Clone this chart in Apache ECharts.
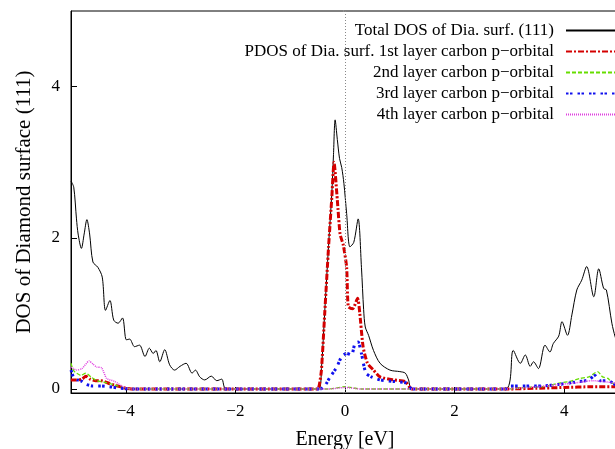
<!DOCTYPE html>
<html>
<head>
<meta charset="utf-8">
<script src="https://cdn.jsdelivr.net/npm/echarts/dist/echarts.min.js"></script>
<style>
html,body{margin:0;padding:0;background:#fff;}
#chart{width:615px;height:449px;}
</style>
</head>
<body>
<div id="chart"></div>
<script>
// ---- data ----
var seriesNames = [
  'Total DOS of Dia. surf. (111)',
  'PDOS of Dia. surf. 1st layer carbon p\u2212orbital',
  '2nd layer carbon p\u2212orbital',
  '3rd layer carbon p\u2212orbital',
  '4th layer carbon p\u2212orbital'
];
var xTicks = [-4, -2, 0, 2, 4];
var yTicks = [0, 2, 4];

var totalDOS = [
  [-5.0,2.75],[-4.95,2.67],[-4.90,2.25],[-4.87,2.05],[-4.81,1.86],[-4.76,2.05],[-4.71,2.24],[-4.66,2.05],
  [-4.60,1.68],[-4.51,1.61],[-4.43,1.48],[-4.37,1.04],[-4.29,1.17],[-4.22,0.91],[-4.14,0.87],[-4.06,0.94],
  [-3.99,0.65],[-3.93,0.66],[-3.84,0.56],[-3.75,0.58],[-3.65,0.43],[-3.57,0.54],[-3.50,0.47],[-3.45,0.51],
  [-3.38,0.36],[-3.29,0.52],[-3.20,0.32],[-3.11,0.25],[-3.01,0.30],[-2.90,0.34],[-2.79,0.21],[-2.73,0.25],
  [-2.65,0.16],[-2.56,0.12],[-2.44,0.17],[-2.34,0.11],[-2.25,0.13],[-2.17,0.0],[-0.48,0.0],
  [-0.43,0.27],[-0.37,1.02],[-0.30,1.90],[-0.24,2.60],[-0.21,3.10],[-0.18,3.56],[-0.14,3.30],[-0.10,3.05],
  [-0.06,2.93],[-0.02,2.72],[0.03,2.32],[0.09,1.88],[0.16,1.94],[0.24,2.25],[0.30,1.61],[0.34,1.05],
  [0.37,0.82],[0.43,0.71],[0.52,0.51],[0.64,0.34],[0.82,0.25],[1.00,0.23],[1.10,0.21],[1.16,0.12],[1.22,0.0],
  [2.93,0.0],[3.07,0.51],[3.20,0.34],[3.29,0.45],[3.38,0.30],[3.44,0.36],[3.53,0.27],[3.65,0.58],[3.74,0.49],
  [3.80,0.60],[3.90,0.70],[3.96,0.89],[4.06,0.71],[4.14,0.98],[4.23,1.31],[4.32,1.44],[4.41,1.62],[4.54,1.22],
  [4.63,1.59],[4.72,1.33],[4.77,1.31],[4.87,0.87],[4.93,0.69],[5.0,0.55]
];
var layer1 = [
  [-5.0,0.12],[-4.90,0.12],[-4.80,0.13],[-4.73,0.17],[-4.65,0.13],[-4.55,0.11],[-4.45,0.11],[-4.29,0.07],
  [-4.15,0.04],[-4.0,0.01],[-3.9,0.0],[-0.50,0.0],[-0.47,0.05],[-0.43,0.25],[-0.37,1.0],[-0.30,1.88],
  [-0.24,2.54],[-0.20,3.0],[-0.14,2.5],[-0.09,2.05],[-0.03,1.9],[0.03,1.61],[0.06,1.09],[0.14,1.06],
  [0.23,1.20],[0.27,1.0],[0.33,0.56],[0.41,0.34],[0.52,0.25],[0.64,0.16],[0.88,0.12],[1.10,0.10],[1.22,0.0],
  [2.95,0.0],[3.5,0.01],[4.0,0.02],[4.5,0.03],[5.0,0.03]
];
var layer2 = [
  [-5.0,0.34],[-4.95,0.24],[-4.82,0.18],[-4.73,0.21],[-4.62,0.15],[-4.53,0.11],[-4.40,0.09],[-4.29,0.07],
  [-4.15,0.04],[-4.05,0.02],[-3.9,0.0],[-0.3,0.0],[0.0,0.03],[0.3,0.0],[2.95,0.0],[3.3,0.02],[3.6,0.03],
  [3.93,0.08],[4.1,0.10],[4.29,0.14],[4.45,0.16],[4.61,0.23],[4.70,0.16],[4.80,0.14],[4.87,0.08],[5.0,0.05]
];
var layer3 = [
  [-5.0,0.25],[-4.95,0.15],[-4.88,0.12],[-4.80,0.10],[-4.72,0.06],[-4.60,0.04],[-4.45,0.04],[-4.3,0.03],
  [-4.1,0.01],[-3.9,0.0],[-0.45,0.0],[-0.37,0.04],[-0.27,0.16],[-0.15,0.29],[-0.06,0.43],[0.03,0.47],
  [0.12,0.45],[0.18,0.60],[0.24,0.62],[0.30,0.47],[0.38,0.21],[0.48,0.16],[0.64,0.12],[0.88,0.10],[1.12,0.08],
  [1.22,0.0],[2.93,0.0],[3.0,0.04],[3.3,0.04],[3.6,0.04],[3.9,0.06],[4.2,0.09],[4.45,0.12],[4.56,0.18],
  [4.65,0.11],[4.8,0.11],[4.95,0.05],[5.0,0.04]
];
var layer4 = [
  [-5.0,0.29],[-4.90,0.25],[-4.80,0.27],[-4.67,0.37],[-4.60,0.33],[-4.53,0.29],[-4.44,0.28],[-4.35,0.14],
  [-4.2,0.10],[-4.05,0.03],[-3.9,0.0],[-0.3,0.0],[0.0,0.02],[0.3,0.0],[2.95,0.0],[3.5,0.03],[3.9,0.06],
  [4.2,0.08],[4.5,0.11],[4.7,0.10],[4.9,0.08],[5.0,0.06]
];

var FONT = '"Liberation Serif","DejaVu Serif",serif';
function fmt(v){ return v < 0 ? '\u2212' + Math.abs(v) : String(v); }

var chart = echarts.init(document.getElementById('chart'), null, {renderer:'canvas'});
chart.setOption({
  animation:false,
  backgroundColor:'#fff',
  grid:{left:71, right:-4, top:11, bottom:56, show:true, borderColor:'#000', borderWidth:1,
        backgroundColor:'transparent', outerBoundsMode:'none', containLabel:false},
  legend:{
    orient:'vertical', right:-17, top:17, align:'right',
    itemWidth:60, itemHeight:12, itemGap:4,
    itemStyle:{opacity:0},
    textStyle:{fontFamily:FONT, fontSize:17, color:'#000', padding:[0,7,0,0]},
    data:seriesNames
  },
  xAxis:{
    type:'value', min:-5, max:5,
    name:'Energy [eV]', nameLocation:'middle', nameGap:37,
    nameTextStyle:{fontFamily:FONT, fontSize:20, color:'#000'},
    axisLine:{onZero:false, lineStyle:{color:'#000', width:1}},
    axisTick:{inside:true, length:6, customValues:xTicks, lineStyle:{color:'#000'}},
    axisLabel:{customValues:xTicks, formatter:fmt, fontFamily:FONT, fontSize:17, color:'#000', margin:10},
    splitLine:{show:false}
  },
  yAxis:{
    type:'value', min:-0.053, max:5,
    name:'DOS of Diamond surface (111)', nameLocation:'middle', nameGap:36,
    nameTextStyle:{fontFamily:FONT, fontSize:21, color:'#000'},
    axisLine:{onZero:false, lineStyle:{color:'#000', width:1}},
    axisTick:{inside:true, length:6, customValues:yTicks, lineStyle:{color:'#000'}},
    axisLabel:{customValues:yTicks, formatter:fmt, fontFamily:FONT, fontSize:17, color:'#000', margin:11},
    splitLine:{show:false}
  },
  series:[
    {name:seriesNames[0], type:'line', data:totalDOS, symbol:'none', smooth:0.3,
     lineStyle:{color:'#000', width:1}, itemStyle:{color:'#000'},
     markLine:{silent:true, symbol:'none', label:{show:false},
       lineStyle:{color:'#888', type:[1,2], width:1}, data:[{xAxis:0}]}},
    {name:seriesNames[1], type:'line', data:layer1, symbol:'none', smooth:0.2,
     lineStyle:{color:'#d40000', width:3, type:[6,2,2,2]}, itemStyle:{color:'#d40000'}},
    {name:seriesNames[2], type:'line', data:layer2, symbol:'none', smooth:0.2,
     lineStyle:{color:'#66dd00', width:1.3, type:[4,2]}, itemStyle:{color:'#66dd00'}},
    {name:seriesNames[3], type:'line', data:layer3, symbol:'none', smooth:0.2,
     lineStyle:{color:'#1010ee', width:3, type:[2.5,1.5,2.5,5]}, itemStyle:{color:'#1010ee'}},
    {name:seriesNames[4], type:'line', data:layer4, symbol:'none', smooth:0.2,
     lineStyle:{color:'#e040e0', width:1.5, type:[1,1]}, itemStyle:{color:'#e040e0'}}
  ]
});
</script>
</body>
</html>
